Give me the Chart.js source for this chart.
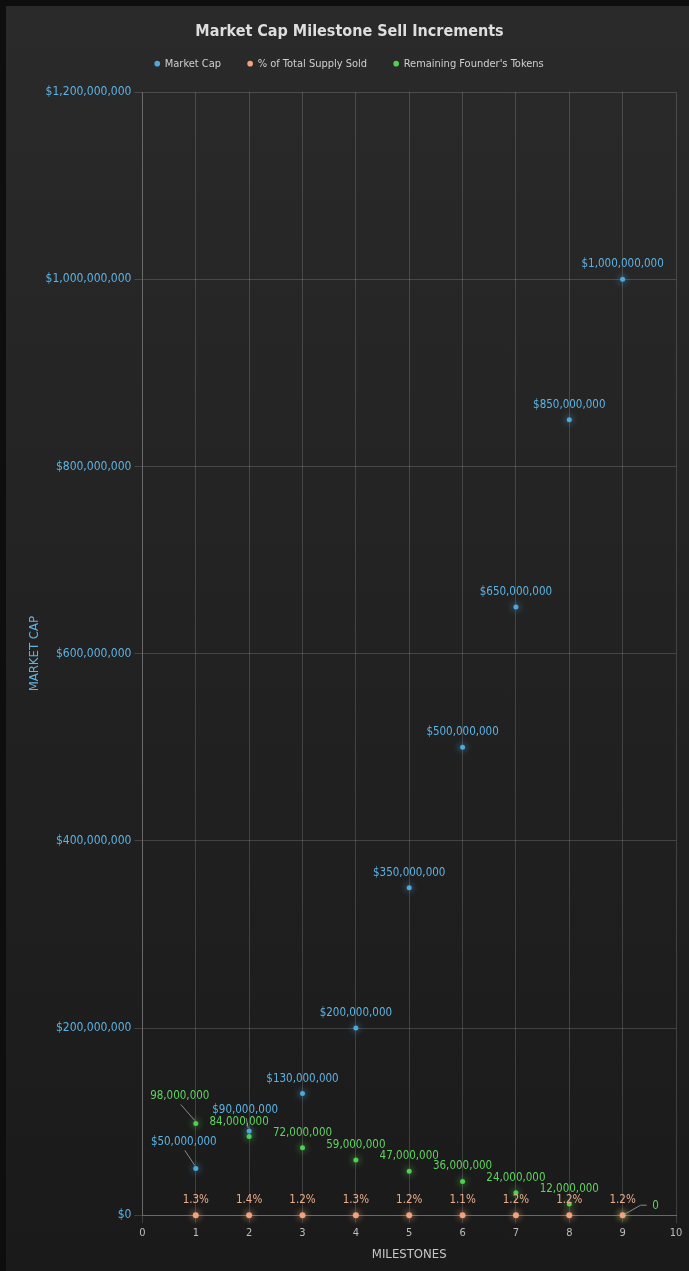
<!DOCTYPE html>
<html>
<head>
<meta charset="utf-8">
<script src="https://cdn.jsdelivr.net/npm/chart.js@4"></script>
<style>
  html, body { margin: 0; padding: 0; background: #0e0e0e; }
  #wrap {
    position: absolute; left: 6px; top: 6px; width: 683px; height: 1265px;
    background: linear-gradient(#2a2a2a, #1a1a1a);
  }
</style>
</head>
<body>
<div id="wrap"><canvas id="capChart" width="683" height="1265"></canvas></div>
<script>
// milestone numbers on the x axis
const milestones = [1, 2, 3, 4, 5, 6, 7, 8, 9];
// market cap at each milestone ($)
const marketCap = [50000000, 90000000, 130000000, 200000000, 350000000, 500000000, 650000000, 850000000, 1000000000];
// % of total supply sold at each milestone
const supplySold = [1.3, 1.4, 1.2, 1.3, 1.2, 1.1, 1.2, 1.2, 1.2];
// founder tokens left after each milestone
const founderTokens = [98000000, 84000000, 72000000, 59000000, 47000000, 36000000, 24000000, 12000000, 0];

const FONT = "'DejaVu Sans Condensed', 'DejaVu Sans', sans-serif";
const blue = "#4ea8dc", orange = "#f2a37a", green = "#4fd14f";

const toPoints = vals => milestones.map((m, i) => ({ x: m, y: vals[i] }));

// label nudges for the crowded points near the bottom (dataset:index -> [dx, dy, leader])
const labelNudge = {
  "0:0": [-12, -26, true],
  "0:1": [-4, -21, true],
  "2:0": [-16, -27, true],
  "2:1": [-10, -15, false],
  "2:8": [33, -9, "elbow"]
};

// draws the value labels above each point
const pointLabels = {
  id: "pointLabels",
  afterDatasetsDraw(chart) {
    const ctx = chart.ctx;
    ctx.save();
    ctx.font = "11.5px " + FONT;
    ctx.textAlign = "center";
    ctx.textBaseline = "middle";
    chart.data.datasets.forEach((ds, di) => {
      const meta = chart.getDatasetMeta(di);
      meta.data.forEach((pt, i) => {
        const nudge = labelNudge[di + ":" + i] || [0, -15, false];
        const tx = pt.x + nudge[0], ty = pt.y + nudge[1];
        ctx.strokeStyle = "#8a8a8a";
        ctx.lineWidth = 1;
        if (nudge[2] === true) {
          ctx.beginPath();
          ctx.moveTo(tx + 1, ty + 8);
          ctx.lineTo(pt.x - 1, pt.y - 3);
          ctx.stroke();
        } else if (nudge[2] === "elbow") {
          ctx.beginPath();
          ctx.moveTo(pt.x + 2, pt.y - 1);
          ctx.lineTo(pt.x + 18, pt.y - 10);
          ctx.lineTo(pt.x + 24, pt.y - 10);
          ctx.stroke();
        }
        ctx.fillStyle = ds.labelColor;
        ctx.fillText(ds.fmt(ds.raw[i]), tx, ty);
      });
    });
    ctx.restore();
  }
};

// soft glow behind the points
const glow = {
  id: "glow",
  beforeDatasetDraw(chart, args) {
    const ds = chart.data.datasets[args.index];
    chart.ctx.save();
    chart.ctx.shadowColor = ds.borderColor;
    chart.ctx.shadowBlur = 7;
  },
  afterDatasetDraw(chart) {
    chart.ctx.restore();
  }
};

// extra room under the legend
const legendGap = {
  id: "legendGap",
  beforeInit(chart) {
    const fit = chart.legend.fit;
    chart.legend.fit = function () {
      fit.bind(chart.legend)();
      this.height += 13;
    };
  }
};

const money = v => "$" + v.toLocaleString("en-US");

new Chart(document.querySelector("#capChart"), {
  type: "scatter",
  data: {
    datasets: [
      {
        label: "Market Cap", data: toPoints(marketCap), raw: marketCap, fmt: money,
        backgroundColor: blue, borderColor: blue, labelColor: "#5db3e4", clip: false
      },
      {
        label: "% of Total Supply Sold", data: toPoints(supplySold), raw: supplySold, fmt: v => v + "%",
        backgroundColor: orange, borderColor: orange, labelColor: "#e9ad8c", clip: false, pointRadius: 3
      },
      {
        label: "Remaining Founder's Tokens", data: toPoints(founderTokens), raw: founderTokens,
        fmt: v => v.toLocaleString("en-US"),
        backgroundColor: green, borderColor: green, labelColor: "#5fd35f", clip: false
      }
    ]
  },
  options: {
    responsive: false,
    animation: false,
    elements: { point: { radius: 2.5, borderWidth: 0, hoverRadius: 3 } },
    layout: { padding: { left: 17, right: 13, top: 10, bottom: 5 } },
    plugins: {
      tooltip: { enabled: false },
      title: {
        display: true, text: "Market Cap Milestone Sell Increments", color: "#dedede",
        font: { family: FONT, size: 16, weight: "bold" }, padding: { top: 6, bottom: -10 }
      },
      legend: {
        labels: {
          usePointStyle: true, pointStyle: "circle", boxWidth: 4, boxHeight: 4,
          color: "#cfcfcf", font: { family: FONT, size: 11 }, padding: 27
        }
      }
    },
    scales: {
      x: {
        type: "linear", min: 0, max: 10,
        ticks: { stepSize: 1, color: "#bdbdbd", font: { family: FONT, size: 11 } },
        grid: { color: "rgba(255,255,255,0.16)" },
        border: { color: "#6a6a6a" },
        title: { display: true, text: "MILESTONES", color: "#c8c8c8", font: { family: FONT, size: 13 } }
      },
      y: {
        min: 0, max: 1200000000,
        ticks: { stepSize: 200000000, color: "#5db3e4", font: { family: FONT, size: 12 }, callback: money },
        grid: { color: "rgba(255,255,255,0.16)" },
        border: { color: "#6a6a6a" },
        title: {
          display: true, text: "MARKET CAP", color: "#5db3e4", font: { family: FONT, size: 13 },
          padding: { top: 4, bottom: 0 }
        }
      }
    }
  },
  plugins: [legendGap, glow, pointLabels]
});
</script>
</body>
</html>
